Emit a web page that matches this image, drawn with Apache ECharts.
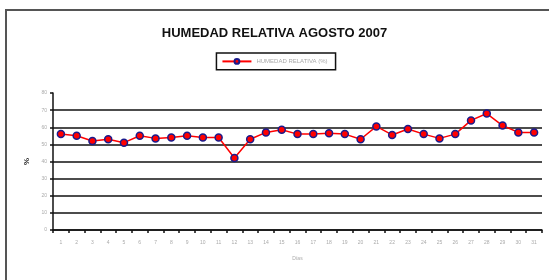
<!DOCTYPE html>
<html>
<head>
<meta charset="utf-8">
<script src="https://cdn.jsdelivr.net/npm/echarts@6/dist/echarts.min.js"></script>
<style>
  html, body { margin: 0; padding: 0; background: #fff; }
  #frame { position: absolute; left: 5px; top: 9px; width: 560px; height: 290px; border: 2px solid #555; box-sizing: border-box; }
  #chart { position: absolute; left: 0; top: 0; width: 549px; height: 280px; }
</style>
</head>
<body>
<div id="frame"></div>
<div id="chart"></div>
<script>
const dias = Array.from({ length: 31 }, (_, i) => String(i + 1))
const humedad = [56, 55, 52, 53, 51, 55, 53.5, 54, 55, 54, 54, 42, 53, 57, 58.5, 56,
                 56, 56.5, 56, 53, 60.5, 55.5, 59, 56, 53.5, 56, 64, 68, 61, 57, 57]
const yTicks = { min: 0, max: 80, interval: 10 }

const chart = echarts.init(document.getElementById('chart'))
chart.setOption({
  backgroundColor: 'transparent',
  animation: false,
  title: {
    text: 'HUMEDAD RELATIVA AGOSTO 2007',
    left: 'center', top: 22,
    textStyle: { fontFamily: 'Liberation Sans, Arial', fontSize: 13, fontWeight: 'bold', color: '#111' },
  },
  legend: {
    top: 53, left: 'center',
    itemWidth: 29, itemHeight: 6, itemGap: 4,
    padding: [5, 8, 5, 5],
    borderColor: '#111', borderWidth: 1.5, borderRadius: 0,
    textStyle: { fontSize: 6, color: '#aaa' },
    data: ['HUMEDAD RELATIVA (%)'],
  },
  grid: { left: 53, right: 7, top: 93, bottom: 50 },
  xAxis: {
    type: 'category', data: dias, boundaryGap: true,
    name: 'Días', nameLocation: 'middle', nameGap: 26,
    nameTextStyle: { fontSize: 5, color: '#aaa' },
    axisLine: { lineStyle: { color: '#111', width: 1.5 } },
    axisTick: { show: true, length: 3, lineStyle: { color: '#111', width: 1.5 } },
    axisLabel: { fontSize: 5, color: '#aaa', margin: 10 },
  },
  yAxis: {
    type: 'value', ...yTicks,
    name: '%', nameLocation: 'middle', nameGap: 19, nameRotate: 90,
    nameTextStyle: { fontSize: 8, fontWeight: 'bold', color: '#222' },
    axisLine: { show: true, lineStyle: { color: '#111', width: 1.5 } },
    axisTick: { show: true, length: 3, lineStyle: { color: '#111', width: 1.5 } },
    axisLabel: { fontSize: 5, color: '#aaa', margin: 6 },
    splitLine: { show: true, showMaxLine: false, lineStyle: { color: '#111', width: 1.5 } },
  },
  series: [{
    name: 'HUMEDAD RELATIVA (%)', type: 'line', data: humedad,
    symbol: 'circle', symbolSize: 7,
    lineStyle: { color: '#ff0000', width: 1.5 },
    itemStyle: { color: '#ff0000', borderColor: '#1a1a8c', borderWidth: 1.5 },
  }],
})
</script>
</body>
</html>
